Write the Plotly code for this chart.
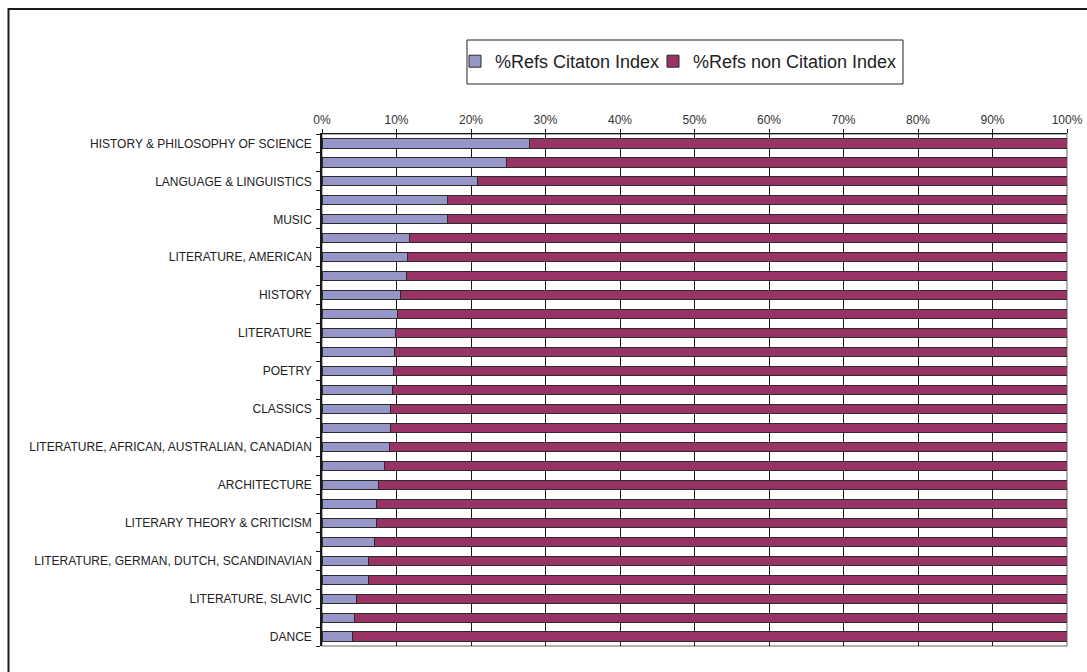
import plotly.graph_objects as go

# Subject categories, top to bottom (only every other one carries an axis label)
categories = [
    "HISTORY & PHILOSOPHY OF SCIENCE", "",
    "LANGUAGE & LINGUISTICS", "",
    "MUSIC", "",
    "LITERATURE, AMERICAN", "",
    "HISTORY", "",
    "LITERATURE", "",
    "POETRY", "",
    "CLASSICS", "",
    "LITERATURE, AFRICAN, AUSTRALIAN, CANADIAN", "",
    "ARCHITECTURE", "",
    "LITERARY THEORY & CRITICISM", "",
    "LITERATURE, GERMAN, DUTCH, SCANDINAVIAN", "",
    "LITERATURE, SLAVIC", "",
    "DANCE",
]

# Share of references to Citation Index sources (%)
pct_citation_index = [
    27.9, 24.8, 20.9, 16.9, 16.8, 11.7, 11.5, 11.3, 10.55,
    10.1, 9.9, 9.7, 9.65, 9.4, 9.25, 9.15, 9.0, 8.45,
    7.6, 7.3, 7.3, 7.05, 6.25, 6.2, 4.6, 4.4, 4.1,
]

# Share of references to non Citation Index sources (%)
pct_non_citation_index = [
    72.1, 75.2, 79.1, 83.1, 83.2, 88.3, 88.5, 88.7, 89.45,
    89.9, 90.1, 90.3, 90.35, 90.6, 90.75, 90.85, 91.0, 91.55,
    92.4, 92.7, 92.7, 92.95, 93.75, 93.8, 95.4, 95.6, 95.9,
]

series_names = ["%Refs Citaton Index", "%Refs non Citation Index"]
x_ticks = list(range(0, 101, 10))

rows = list(range(len(categories)))
FONT = "Arial, Liberation Sans, sans-serif"

fig = go.Figure()
fig.add_trace(go.Bar(
    y=rows, x=pct_citation_index, orientation="h", name=series_names[0],
    marker=dict(color="#9696C9", line=dict(color="#2b2b2b", width=1)),
    legend="legend",
))
fig.add_trace(go.Bar(
    y=rows, x=pct_non_citation_index, orientation="h", name=series_names[1],
    marker=dict(color="#993366", line=dict(color="#2b2b2b", width=1)),
    legend="legend2",
))

L, R, T, B = 322, 20, 134, 26
W, H = 1087, 672
pw, ph = W - L - R, H - T - B


def px_x(p):
    return (p - L) / pw


def px_y(p):
    return (H - B - p) / ph


shapes = [
    # plot area border (grey, right and bottom show)
    dict(type="rect", xref="paper", yref="paper", x0=0, x1=1, y0=0, y1=1,
         line=dict(color="#9a9a9a", width=1.5), layer="below"),
    # legend box
    dict(type="rect", xref="paper", yref="paper",
         x0=px_x(467), x1=px_x(903), y0=px_y(84), y1=px_y(40),
         line=dict(color="#222222", width=1), fillcolor="white"),
    # outer chart frame
    dict(type="rect", xref="paper", yref="paper",
         x0=px_x(8.5), x1=px_x(1400), y0=px_y(900), y1=px_y(9),
         line=dict(color="#1a1a1a", width=2)),
]


def legend_at(left_px):
    return dict(
        orientation="h",
        xref="container", yref="container",
        x=left_px / W, y=1 - 43 / H, xanchor="left", yanchor="top",
        borderwidth=0, bgcolor="rgba(0,0,0,0)",
        font=dict(family=FONT, size=18, color="#222222"),
    )


fig.update_layout(
    width=W, height=H,
    autosize=False,
    margin=dict(l=L, r=R, t=T, b=B, autoexpand=False),
    barmode="stack",
    bargap=0.52,
    paper_bgcolor="white",
    plot_bgcolor="white",
    font=dict(family=FONT, color="#222222", size=12),
    showlegend=True,
    legend=legend_at(455),
    legend2=legend_at(653),
    xaxis=dict(
        side="top", range=[0, 100], automargin=False,
        tickvals=x_ticks, ticktext=[f"{v}%" for v in x_ticks],
        showgrid=True, gridcolor="#1a1a1a", gridwidth=1,
        ticks="outside", ticklen=4, tickcolor="#1a1a1a",
        showline=True, linecolor="#1a1a1a", linewidth=1,
        tickfont=dict(family=FONT, size=12, color="#333333"),
        zeroline=False, fixedrange=True,
    ),
    yaxis=dict(
        range=[len(categories) - 0.5, -0.5], automargin=False,
        tickvals=rows, ticktext=categories,
        ticks="outside", ticklen=6, tickcolor="rgba(0,0,0,0)",
        minor=dict(tick0=0.5, dtick=1, ticks="outside", ticklen=4,
                   tickcolor="#1a1a1a", showgrid=False),
        showgrid=False, zeroline=False,
        showline=True, linecolor="#1a1a1a", linewidth=1.5,
        tickfont=dict(family=FONT, size=12, color="#222222"),
        fixedrange=True,
    ),
    shapes=shapes,
)

fig.write_html("out.html")
